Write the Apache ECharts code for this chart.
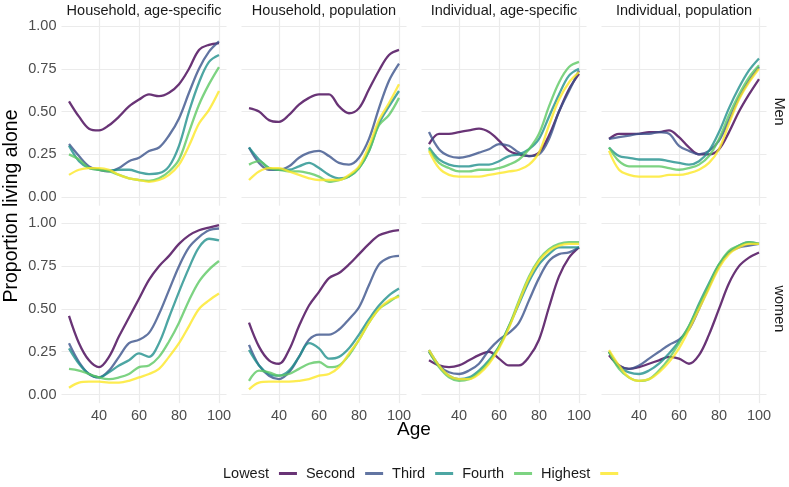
<!DOCTYPE html>
<html>
<head>
<meta charset="utf-8">
<script src="https://cdn.jsdelivr.net/npm/echarts@6/dist/echarts.min.js"></script>
<style>
html, body { margin: 0; padding: 0; background: #fff; }
#main { width: 789px; height: 487px; }
</style>
</head>
<body>
<div id="main"></div>
<script>
var ages = [25, 30, 35, 40, 45, 50, 55, 60, 65, 70, 75, 80, 85, 90, 95, 100];
var groups = ['Lowest', 'Second', 'Third', 'Fourth', 'Highest'];
var panelTitles = ['Household, age-specific', 'Household, population', 'Individual, age-specific', 'Individual, population'];
var rowTitles = ['Men', 'women'];
var xTicks = [40, 60, 80, 100];
var yTicks = [0, 0.25, 0.5, 0.75, 1];

// men, one row per quintile (Lowest .. Highest)
var menHhAge = [
	[0.56, 0.47, 0.40, 0.39, 0.42, 0.47, 0.53, 0.57, 0.60, 0.59, 0.61, 0.66, 0.75, 0.86, 0.89, 0.90],
	[0.31, 0.24, 0.18, 0.16, 0.15, 0.17, 0.21, 0.23, 0.27, 0.29, 0.36, 0.46, 0.61, 0.75, 0.85, 0.91],
	[0.30, 0.21, 0.17, 0.16, 0.155, 0.16, 0.16, 0.145, 0.135, 0.14, 0.18, 0.30, 0.50, 0.67, 0.79, 0.83],
	[0.25, 0.22, 0.17, 0.16, 0.15, 0.13, 0.11, 0.10, 0.095, 0.11, 0.15, 0.22, 0.38, 0.54, 0.66, 0.76],
	[0.13, 0.16, 0.17, 0.17, 0.16, 0.13, 0.11, 0.10, 0.09, 0.10, 0.13, 0.19, 0.30, 0.43, 0.51, 0.62]
];
var menHhPop = [
	[0.52, 0.50, 0.45, 0.44, 0.48, 0.54, 0.58, 0.60, 0.60, 0.53, 0.49, 0.52, 0.63, 0.74, 0.83, 0.86],
	[0.29, 0.20, 0.16, 0.16, 0.18, 0.23, 0.26, 0.27, 0.24, 0.20, 0.19, 0.23, 0.34, 0.52, 0.68, 0.78],
	[0.29, 0.22, 0.17, 0.16, 0.16, 0.18, 0.20, 0.17, 0.13, 0.11, 0.12, 0.17, 0.27, 0.43, 0.53, 0.62],
	[0.19, 0.21, 0.17, 0.16, 0.15, 0.15, 0.14, 0.12, 0.09, 0.10, 0.12, 0.17, 0.27, 0.42, 0.48, 0.58],
	[0.10, 0.15, 0.17, 0.17, 0.15, 0.13, 0.11, 0.10, 0.10, 0.10, 0.13, 0.18, 0.30, 0.45, 0.55, 0.66]
];
var menIndAge = [
	[0.31, 0.37, 0.37, 0.38, 0.39, 0.40, 0.38, 0.33, 0.27, 0.25, 0.24, 0.26, 0.36, 0.50, 0.63, 0.72],
	[0.38, 0.28, 0.24, 0.23, 0.24, 0.26, 0.28, 0.31, 0.30, 0.26, 0.24, 0.25, 0.34, 0.50, 0.62, 0.74],
	[0.29, 0.22, 0.19, 0.18, 0.18, 0.19, 0.19, 0.21, 0.24, 0.25, 0.28, 0.34, 0.47, 0.60, 0.71, 0.75],
	[0.28, 0.20, 0.17, 0.15, 0.15, 0.16, 0.16, 0.17, 0.19, 0.22, 0.28, 0.37, 0.53, 0.67, 0.76, 0.79],
	[0.27, 0.17, 0.13, 0.12, 0.12, 0.12, 0.13, 0.14, 0.15, 0.16, 0.19, 0.26, 0.42, 0.57, 0.67, 0.73]
];
var menIndPop = [
	[0.34, 0.37, 0.37, 0.37, 0.38, 0.38, 0.39, 0.35, 0.29, 0.25, 0.25, 0.28, 0.38, 0.50, 0.60, 0.69],
	[0.34, 0.35, 0.36, 0.37, 0.37, 0.38, 0.37, 0.30, 0.27, 0.25, 0.27, 0.33, 0.45, 0.58, 0.68, 0.76],
	[0.29, 0.24, 0.23, 0.22, 0.22, 0.22, 0.21, 0.20, 0.19, 0.21, 0.27, 0.38, 0.52, 0.64, 0.74, 0.81],
	[0.29, 0.21, 0.18, 0.18, 0.18, 0.18, 0.17, 0.16, 0.17, 0.19, 0.24, 0.34, 0.48, 0.60, 0.70, 0.77],
	[0.27, 0.16, 0.13, 0.12, 0.12, 0.12, 0.13, 0.13, 0.14, 0.16, 0.20, 0.28, 0.43, 0.57, 0.67, 0.75]
];

// women
var womenHhAge = [
	[0.46, 0.30, 0.20, 0.16, 0.22, 0.34, 0.45, 0.56, 0.67, 0.75, 0.81, 0.88, 0.93, 0.96, 0.975, 0.99],
	[0.30, 0.19, 0.12, 0.10, 0.14, 0.22, 0.30, 0.32, 0.36, 0.47, 0.61, 0.75, 0.86, 0.92, 0.96, 0.97],
	[0.27, 0.18, 0.12, 0.10, 0.13, 0.17, 0.20, 0.24, 0.22, 0.30, 0.45, 0.60, 0.74, 0.86, 0.91, 0.90],
	[0.15, 0.14, 0.12, 0.10, 0.09, 0.10, 0.12, 0.16, 0.17, 0.22, 0.31, 0.42, 0.55, 0.66, 0.73, 0.78],
	[0.04, 0.07, 0.075, 0.075, 0.07, 0.07, 0.08, 0.10, 0.12, 0.15, 0.22, 0.30, 0.40, 0.50, 0.55, 0.59]
];
var womenHhPop = [
	[0.42, 0.28, 0.20, 0.18, 0.26, 0.40, 0.52, 0.60, 0.68, 0.71, 0.76, 0.82, 0.88, 0.93, 0.95, 0.96],
	[0.29, 0.17, 0.11, 0.09, 0.13, 0.22, 0.32, 0.35, 0.35, 0.38, 0.44, 0.51, 0.64, 0.76, 0.80, 0.81],
	[0.26, 0.17, 0.12, 0.11, 0.14, 0.22, 0.30, 0.27, 0.21, 0.22, 0.27, 0.35, 0.44, 0.52, 0.58, 0.62],
	[0.08, 0.14, 0.13, 0.11, 0.12, 0.15, 0.18, 0.19, 0.16, 0.17, 0.23, 0.32, 0.42, 0.50, 0.54, 0.58],
	[0.03, 0.07, 0.075, 0.075, 0.075, 0.08, 0.09, 0.11, 0.12, 0.16, 0.24, 0.32, 0.42, 0.50, 0.55, 0.57]
];
var womenIndAge = [
	[0.20, 0.17, 0.16, 0.17, 0.20, 0.23, 0.25, 0.21, 0.17, 0.17, 0.22, 0.32, 0.51, 0.69, 0.80, 0.86],
	[0.25, 0.17, 0.13, 0.12, 0.14, 0.18, 0.26, 0.32, 0.36, 0.42, 0.55, 0.68, 0.78, 0.82, 0.83, 0.86],
	[0.26, 0.17, 0.11, 0.09, 0.10, 0.14, 0.20, 0.28, 0.40, 0.53, 0.66, 0.76, 0.82, 0.86, 0.86, 0.86],
	[0.25, 0.16, 0.10, 0.08, 0.09, 0.13, 0.19, 0.28, 0.40, 0.55, 0.69, 0.79, 0.85, 0.88, 0.89, 0.89],
	[0.26, 0.17, 0.11, 0.09, 0.09, 0.12, 0.18, 0.27, 0.39, 0.54, 0.68, 0.78, 0.84, 0.87, 0.88, 0.88]
];
var womenIndPop = [
	[0.23, 0.17, 0.15, 0.16, 0.18, 0.20, 0.22, 0.21, 0.18, 0.23, 0.35, 0.50, 0.65, 0.75, 0.80, 0.83],
	[0.25, 0.17, 0.15, 0.17, 0.21, 0.25, 0.29, 0.32, 0.38, 0.50, 0.63, 0.75, 0.83, 0.86, 0.87, 0.88],
	[0.25, 0.16, 0.13, 0.12, 0.14, 0.18, 0.24, 0.31, 0.40, 0.53, 0.65, 0.76, 0.83, 0.87, 0.89, 0.88],
	[0.25, 0.15, 0.10, 0.08, 0.09, 0.14, 0.21, 0.30, 0.40, 0.52, 0.64, 0.76, 0.84, 0.87, 0.89, 0.88],
	[0.26, 0.17, 0.10, 0.08, 0.09, 0.13, 0.19, 0.27, 0.38, 0.50, 0.62, 0.74, 0.82, 0.86, 0.88, 0.88]
];

var panels = [
	[menHhAge, menHhPop, menIndAge, menIndPop],
	[womenHhAge, womenHhPop, womenIndAge, womenIndPop]
];

var colors = ['rgba(68,1,84,0.8)', 'rgba(59,82,139,0.8)', 'rgba(33,144,140,0.8)', 'rgba(93,200,99,0.8)', 'rgba(253,231,37,0.8)'];
var font = '"Liberation Sans", Arial, sans-serif';

var colLeft = [61.5, 241.5, 421.5, 601.5];
var rowTop = [17.4, 214.8];
var panelW = 165, panelH = 188.3;

var grids = [], xAxes = [], yAxes = [], series = [], graphics = [];

for (var r = 0; r < 2; r++) {
	for (var c = 0; c < 4; c++) {
		var idx = r * 4 + c;
		grids.push({ left: colLeft[c], top: rowTop[r], width: panelW, height: panelH });
		xAxes.push({
			gridIndex: idx, type: 'value', min: 21.25, max: 103.75,
			axisLine: { show: false },
			axisTick: { show: false, customValues: xTicks },
			axisLabel: { show: r == 1, customValues: xTicks, margin: 5, color: '#4d4d4d', fontSize: 14.5, fontFamily: font },
			splitLine: { show: true, lineStyle: { color: '#ebebeb', width: 1.2 } }
		});
		yAxes.push({
			gridIndex: idx, type: 'value', min: -0.05, max: 1.05,
			axisLine: { show: false },
			axisTick: { show: false, customValues: yTicks },
			axisLabel: {
				show: c == 0, customValues: yTicks, margin: 5, color: '#4d4d4d', fontSize: 14.5, fontFamily: font,
				formatter: function (v) { return v.toFixed(2); }
			},
			splitLine: { show: true, lineStyle: { color: '#ebebeb', width: 1.2 } }
		});
		var sets = panels[r][c];
		for (var g = 0; g < 5; g++) {
			series.push({
				name: groups[g],
				type: 'line',
				xAxisIndex: idx,
				yAxisIndex: idx,
				data: ages.map(function (a, i) { return [a, sets[g][i]]; }),
				smooth: 0.35,
				showSymbol: false,
				color: colors[g],
				lineStyle: { width: 2.3, color: colors[g] },
				z: 2 + g
			});
		}
	}
}

for (var c = 0; c < 4; c++) {
	graphics.push({
		type: 'text', x: colLeft[c] + panelW / 2, y: 11,
		style: { text: panelTitles[c], fill: '#1a1a1a', font: '14.5px ' + font, textAlign: 'center', textVerticalAlign: 'middle' }
	});
}
for (var r = 0; r < 2; r++) {
	graphics.push({
		type: 'text', x: 779, y: rowTop[r] + panelH / 2, rotation: -Math.PI / 2,
		style: { text: rowTitles[r], fill: '#1a1a1a', font: '14.5px ' + font, textAlign: 'center', textVerticalAlign: 'middle' }
	});
}
graphics.push({
	type: 'text', x: 12, y: 206, rotation: Math.PI / 2,
	style: { text: 'Proportion living alone', fill: '#000', font: '19.5px ' + font, textAlign: 'center', textVerticalAlign: 'middle' }
});
graphics.push({
	type: 'text', x: 414, y: 430,
	style: { text: 'Age', fill: '#000', font: '19px ' + font, textAlign: 'center', textVerticalAlign: 'middle' }
});

var myChart = echarts.init(document.getElementById('main'));
var option = {
	animation: false,
	backgroundColor: '#fff',
	legend: {
		left: 218, top: 461,
		align: 'right',
		icon: 'rect',
		itemWidth: 18,
		itemHeight: 3,
		itemGap: 9,
		textStyle: { fontSize: 14.5, color: '#1a1a1a', fontFamily: font, padding: [0, 5, 0, 0] },
		data: groups
	},
	grid: grids,
	xAxis: xAxes,
	yAxis: yAxes,
	series: series,
	graphic: graphics
};
myChart.setOption(option);
</script>
</body>
</html>
